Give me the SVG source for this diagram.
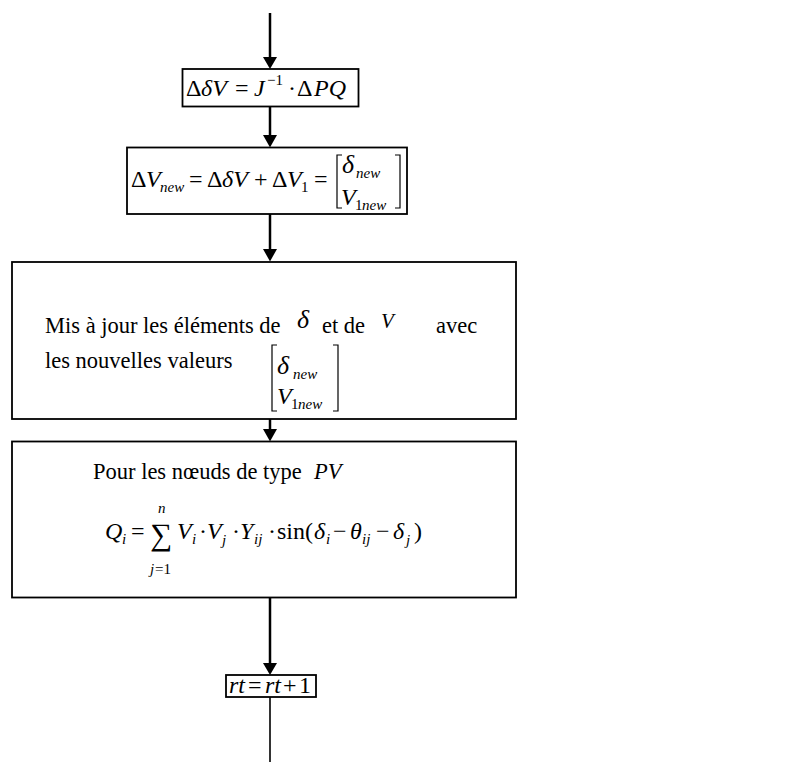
<svg xmlns="http://www.w3.org/2000/svg" width="795" height="762" viewBox="0 0 795 762" font-family="'Liberation Serif', 'Times New Roman', serif">
<style>
text, tspan{font-family:'Liberation Serif','Times New Roman',serif;fill:#000}
.box{fill:#fff;stroke:#000;stroke-width:1.8}
.it{font-style:italic}
.sub{font-size:15px}
.m{font-size:24px}
.t{font-size:22.5px}
.br{fill:none;stroke:#000;stroke-width:1.2}
.conn{stroke:#000;stroke-width:2.5;fill:none}
.head{fill:#000}
</style>
<g id="connectors">
<line class="conn" x1="270" y1="13" x2="270" y2="58"/>
<polygon class="head" points="263,57 277,57 270,69"/>
<line class="conn" x1="270" y1="107" x2="270" y2="136"/>
<polygon class="head" points="263,135 277,135 270,147.5"/>
<line class="conn" x1="270" y1="214" x2="270" y2="250"/>
<polygon class="head" points="263,249 277,249 270,261.5"/>
<line class="conn" x1="270" y1="419" x2="270" y2="430"/>
<polygon class="head" points="263,429 277,429 270,441.5"/>
<line class="conn" x1="270" y1="598" x2="270" y2="664"/>
<polygon class="head" points="263,663 277,663 270,675"/>
<line x1="270" y1="697" x2="270" y2="762" stroke="#000" stroke-width="1.6"/>
</g>
<g id="node1">
<rect class="box" x="182.5" y="69" width="176" height="37.5"/>
<text class="m" y="96"><tspan x="186">Δ</tspan><tspan class="it" x="201">δV</tspan><tspan x="235">=</tspan><tspan class="it" x="254">J</tspan><tspan class="sub" x="267" y="85">−1</tspan><tspan x="288" y="96">·</tspan><tspan x="297">Δ</tspan><tspan class="it" x="314">PQ</tspan></text>
</g>
<g id="node2">
<rect class="box" x="127" y="147.5" width="280" height="66.5"/>
<text class="m" y="187"><tspan x="131">Δ</tspan><tspan class="it" x="146">V</tspan><tspan class="sub it" x="160" y="192" font-size="14">new</tspan><tspan x="189" y="187">=</tspan><tspan x="207">Δ</tspan><tspan class="it" x="222">δV</tspan><tspan x="254">+</tspan><tspan x="272">Δ</tspan><tspan class="it" x="287">V</tspan><tspan class="sub" x="301" y="192">1</tspan><tspan x="314" y="187">=</tspan></text>
<path class="br" d="M342,155 H337 V208 H342 M395,155 H400 V208 H395"/>
<text class="m"><tspan class="it" x="342" y="173" font-size="26">δ</tspan><tspan class="sub it" x="356" y="178">new</tspan><tspan class="it" x="341" y="205">V</tspan><tspan class="sub" x="355" y="210">1</tspan><tspan class="sub it" x="362" y="210">new</tspan></text>
</g>
<g id="node3">
<rect class="box" x="12" y="262" width="504" height="157"/>
<text class="t" y="333"><tspan x="45">Mis à jour les éléments de</tspan><tspan class="it" x="297" y="328" font-size="26">δ</tspan><tspan x="322" y="333">et de</tspan><tspan class="it" x="381" y="328" font-size="21">V</tspan><tspan x="436" y="333">avec</tspan></text>
<text class="t" x="45" y="368">les nouvelles valeurs</text>
<path class="br" d="M277,345 H272 V411 H277 M333,345 H338 V411 H333"/>
<text class="m"><tspan class="it" x="277" y="374" font-size="26">δ</tspan><tspan class="sub it" x="293" y="379">new</tspan><tspan class="it" x="277" y="404">V</tspan><tspan class="sub" x="291" y="409">1</tspan><tspan class="sub it" x="298" y="409">new</tspan></text>
</g>
<g id="node4">
<rect class="box" x="12" y="441.5" width="504" height="156"/>
<text class="t" y="479"><tspan x="93">Pour les nœuds de type</tspan><tspan class="it" x="314">PV</tspan></text>
<text class="m" y="539"><tspan class="it" x="105">Q</tspan><tspan class="sub it" x="122" y="544">i</tspan><tspan x="131" y="539">=</tspan><tspan x="150" y="545" font-size="31">∑</tspan><tspan class="it" x="177" y="539">V</tspan><tspan class="sub it" x="192" y="544">i</tspan><tspan x="199" y="539">·</tspan><tspan class="it" x="207">V</tspan><tspan class="sub it" x="222" y="545">j</tspan><tspan x="232" y="539">·</tspan><tspan class="it" x="240">Y</tspan><tspan class="sub it" x="254" y="544">ij</tspan><tspan x="268" y="539">·</tspan><tspan x="277">sin(</tspan><tspan class="it" x="314">δ</tspan><tspan class="sub it" x="326" y="544">i</tspan><tspan x="333" y="539">−</tspan><tspan class="it" x="350">θ</tspan><tspan class="sub it" x="362" y="544">ij</tspan><tspan x="376" y="539">−</tspan><tspan class="it" x="393">δ</tspan><tspan class="sub it" x="406" y="545">j</tspan><tspan x="414" y="539">)</tspan></text>
<text class="sub"><tspan class="it" x="158" y="513">n</tspan><tspan class="it" x="150" y="574">j</tspan><tspan x="155" y="574">=1</tspan></text>
</g>
<g id="node5">
<rect class="box" x="226" y="675" width="90" height="22"/>
<text class="m" y="693"><tspan class="it" x="229">rt</tspan><tspan x="248">=</tspan><tspan class="it" x="265">rt</tspan><tspan x="283">+</tspan><tspan x="299">1</tspan></text>
</g>
</svg>
